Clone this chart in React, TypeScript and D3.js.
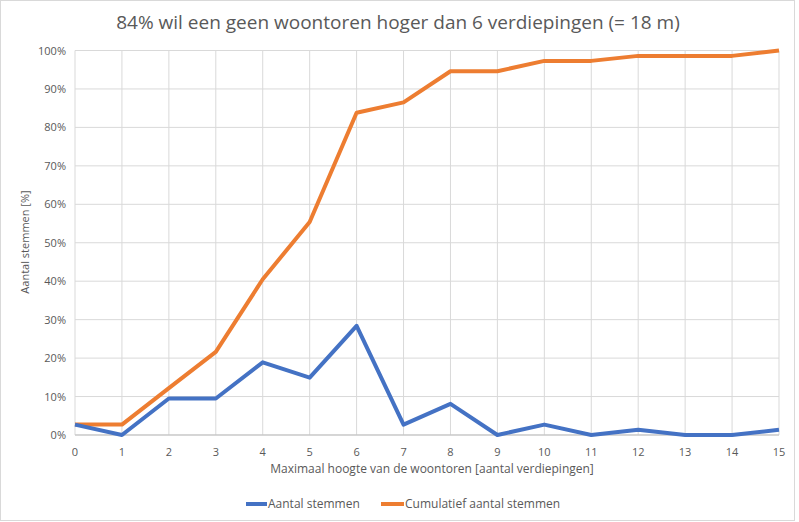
import React from "react";
import * as d3 from "d3";

const categories = [0, 1, 2, 3, 4, 5, 6, 7, 8, 9, 10, 11, 12, 13, 14, 15];
const aantalStemmen = [2.7, 0, 9.5, 9.5, 18.9, 14.9, 28.4, 2.7, 8.1, 0, 2.7, 0, 1.35, 0, 0, 1.35];
const cumulatief = [2.7, 2.7, 12.2, 21.6, 40.5, 55.4, 83.8, 86.5, 94.6, 94.6, 97.3, 97.3, 98.6, 98.6, 98.6, 100];
const yTicks = [0, 10, 20, 30, 40, 50, 60, 70, 80, 90, 100];
const seriesNames = ["Aantal stemmen", "Cumulatief aantal stemmen"];

const W = 799;
const H = 522;
const FONT = "'Open Sans', 'Noto Sans', sans-serif";
const TEXT = "#595959";
const GRID = "#d9d9d9";
const BLUE = "#4472C4";
const ORANGE = "#ED7D31";

export default function App() {
  const x = d3.scaleLinear().domain([0, 15]).range([75, 779]);
  const y = d3.scaleLinear().domain([0, 100]).range([435, 50.5]);
  const line = d3
    .line<[number, number]>()
    .x((d) => x(d[0]))
    .y((d) => y(d[1]));
  const blueD = line(categories.map((c, i) => [c, aantalStemmen[i]]) as [number, number][]) || "";
  const orangeD = line(categories.map((c, i) => [c, cumulatief[i]]) as [number, number][]) || "";

  return (
    <svg
      width={W}
      height={H}
      style={{ position: "absolute", left: 0, top: 0, background: "#fff" }}
      fontFamily={FONT}
    >
      <rect x={0.5} y={0.5} width={794} height={520} fill="#fff" stroke={GRID} />
      <text x={398} y={29} textAnchor="middle" fontSize={19} fill={TEXT}>
        84% wil een geen woontoren hoger dan 6 verdiepingen (= 18 m)
      </text>
      {yTicks.map((t) => (
        <g key={"y" + t}>
          <line x1={x(0)} x2={x(15)} y1={y(t)} y2={y(t)} stroke={GRID} strokeWidth={1} />
          <text x={66} y={y(t) + 4} textAnchor="end" fontSize={11} fill={TEXT}>
            {t}%
          </text>
        </g>
      ))}
      {categories.map((c) => (
        <g key={"x" + c}>
          <line x1={x(c)} x2={x(c)} y1={y(0)} y2={y(100)} stroke={GRID} strokeWidth={1} />
          <text x={x(c)} y={456} textAnchor="middle" fontSize={11} fill={TEXT}>
            {c}
          </text>
        </g>
      ))}
      <line x1={x(0)} x2={x(15)} y1={y(0)} y2={y(0)} stroke="#bfbfbf" strokeWidth={1} />
      <path d={orangeD} fill="none" stroke={ORANGE} strokeWidth={4} strokeLinejoin="round" />
      <path d={blueD} fill="none" stroke={BLUE} strokeWidth={4} strokeLinejoin="round" />
      <text x={432} y={473} textAnchor="middle" fontSize={12} fill={TEXT}>
        Maximaal hoogte van de woontoren [aantal verdiepingen]
      </text>
      <text
        transform={`translate(29, ${242}) rotate(-90)`}
        textAnchor="middle"
        fontSize={11}
        fill={TEXT}
      >
        Aantal stemmen [%]
      </text>
      <line x1={246} x2={267} y1={504} y2={504} stroke={BLUE} strokeWidth={4} />
      <text x={268} y={508} fontSize={12} fill={TEXT}>
        {seriesNames[0]}
      </text>
      <line x1={381} x2={404} y1={504} y2={504} stroke={ORANGE} strokeWidth={4} />
      <text x={405} y={508} fontSize={12} fill={TEXT}>
        {seriesNames[1]}
      </text>
    </svg>
  );
}
